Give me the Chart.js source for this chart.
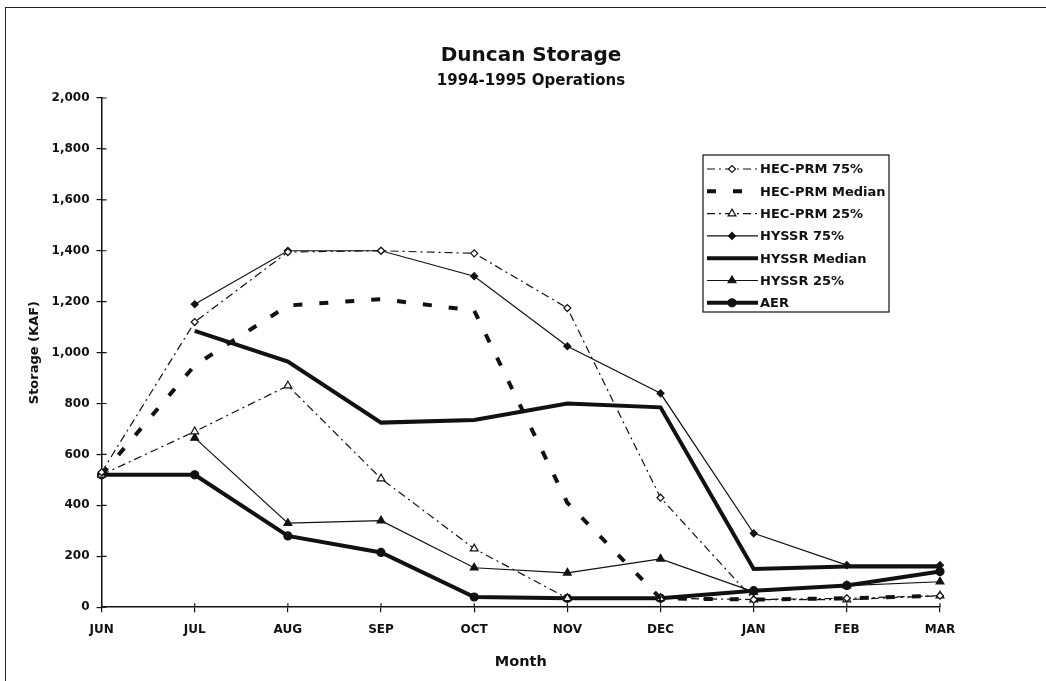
<!DOCTYPE html>
<html lang="en">

<head>
    <meta charset="UTF-8">
    <meta name="viewport" content="width=device-width, initial-scale=1.0">
    <title>Duncan Storage</title>
    <script src="https://cdn.jsdelivr.net/npm/chart.js"></script>
    <style>
        body { margin: 0; overflow: hidden; background: #fff; }
        #frame {
            position: absolute; left: 5px; top: 7px; width: 1200px; height: 900px;
            border-left: 1px solid #222; border-top: 1px solid #222; pointer-events: none;
        }
    </style>
</head>

<body>
    <canvas id="myChart" width="1046" height="681"></canvas>
    <div id="frame"></div>
</body>

<script>

    const months = ['JUN', 'JUL', 'AUG', 'SEP', 'OCT', 'NOV', 'DEC', 'JAN', 'FEB', 'MAR']

    const hecPrm75 = [530, 1120, 1395, 1400, 1390, 1175, 430, 30, 35, 45]
    const hecPrmMedian = [520, 950, 1185, 1210, 1165, 410, 35, 30, 35, 45]
    const hecPrm25 = [520, 690, 870, 505, 230, 35, 35, 30, 30, 45]
    const hyssr75 = [null, 1190, 1400, 1400, 1300, 1025, 840, 290, 165, 165]
    const hyssrMedian = [null, 1085, 965, 725, 735, 800, 785, 150, 160, 160]
    const hyssr25 = [null, 665, 330, 340, 155, 135, 190, 60, 85, 100]
    const aer = [520, 520, 280, 215, 40, 35, 35, 65, 85, 140]

    const ink = '#111'
    const dashDot = [8, 4, 2, 4]

    Chart.defaults.font.family = '"DejaVu Sans", sans-serif'
    Chart.defaults.font.weight = 'bold'
    Chart.defaults.color = ink

    // title + subtitle sit a bit right of the plot centre in the original
    const shiftTitles = {
        id: 'shiftTitles',
        afterLayout(chart) {
            chart.boxes.forEach(b => {
                if (b.position === 'top' && b.fullSize) {
                    b.left = 0
                    b.right = 1062
                }
            })
        }
    }

    // ticks that cross the axis line, plus the boxed legend inside the plot
    const extras = {
        id: 'extras',
        afterDraw(chart) {
            const ctx = chart.ctx
            const x = chart.scales.x
            const y = chart.scales.y
            const area = chart.chartArea

            ctx.save()
            ctx.strokeStyle = ink
            ctx.lineWidth = 1.2
            ctx.beginPath()
            y.ticks.forEach((t, i) => {
                const py = y.getPixelForTick(i)
                ctx.moveTo(area.left, py)
                ctx.lineTo(area.left + 5, py)
            })
            x.ticks.forEach((t, i) => {
                const px = x.getPixelForTick(i)
                ctx.moveTo(px, area.bottom)
                ctx.lineTo(px, area.bottom - 4)
            })
            ctx.stroke()

            const box = { left: 703, top: 155, right: 889, bottom: 312 }
            ctx.fillStyle = '#fff'
            ctx.fillRect(box.left, box.top, box.right - box.left, box.bottom - box.top)
            ctx.lineWidth = 1.2
            ctx.strokeRect(box.left, box.top, box.right - box.left, box.bottom - box.top)

            ctx.font = 'bold 13px "DejaVu Sans", sans-serif'
            ctx.textBaseline = 'middle'
            ctx.textAlign = 'left'
            chart.data.datasets.forEach((ds, i) => {
                const ly = box.top + 14 + i * 22.3
                ctx.save()
                ctx.strokeStyle = ds.borderColor
                ctx.lineWidth = ds.borderWidth
                ctx.setLineDash(ds.borderDash || [])
                ctx.beginPath()
                ctx.moveTo(box.left + 4, ly)
                ctx.lineTo(box.left + 55, ly)
                ctx.stroke()
                ctx.restore()
                if (ds.pointRadius > 0) {
                    ctx.fillStyle = ds.pointBackgroundColor
                    ctx.strokeStyle = ds.borderColor
                    ctx.lineWidth = ds.pointBorderWidth
                    Chart.helpers.drawPoint(ctx, {
                        pointStyle: ds.pointStyle,
                        radius: ds.pointRadius,
                        borderWidth: ds.pointBorderWidth,
                        rotation: 0
                    }, box.left + 29, ly)
                }
                ctx.fillStyle = ink
                ctx.fillText(ds.label, box.left + 57, ly + 1)
            })
            ctx.restore()
        }
    }

    const series = (label, data, width, dash, style, radius, fill) => ({
        label,
        data,
        borderColor: ink,
        borderWidth: width,
        borderDash: dash,
        pointStyle: style,
        pointRadius: radius,
        pointHoverRadius: radius,
        pointBackgroundColor: fill,
        pointBorderColor: ink,
        pointBorderWidth: 1.2,
        tension: 0,
        fill: false
    })

    const chart = new Chart(
        document.getElementById('myChart'),
        {
            type: 'line',
            data: {
                labels: months,
                datasets: [
                    series('HEC-PRM 75%', hecPrm75, 1.2, dashDot, 'rectRot', 3.5, '#fff'),
                    series('HEC-PRM Median', hecPrmMedian, 4, [9, 17], 'circle', 0, ink),
                    series('HEC-PRM 25%', hecPrm25, 1.2, dashDot, 'triangle', 4.5, '#fff'),
                    series('HYSSR 75%', hyssr75, 1.2, [], 'rectRot', 3.5, ink),
                    series('HYSSR Median', hyssrMedian, 4, [], 'circle', 0, ink),
                    series('HYSSR 25%', hyssr25, 1.2, [], 'triangle', 4.5, ink),
                    series('AER', aer, 4, [], 'circle', 4, ink)
                ]
            },
            options: {
                responsive: false,
                animation: false,
                layout: {
                    padding: { left: 20, right: 106, top: 0, bottom: 10 }
                },
                plugins: {
                    legend: { display: false },
                    tooltip: { enabled: false },
                    title: {
                        display: true,
                        text: 'Duncan Storage',
                        color: ink,
                        font: { size: 20, weight: 'bold' },
                        padding: { top: 44, bottom: 2 }
                    },
                    subtitle: {
                        display: true,
                        text: '1994-1995 Operations',
                        color: ink,
                        font: { size: 15, weight: 'bold' },
                        padding: { top: 2, bottom: 8 }
                    }
                },
                scales: {
                    x: {
                        offset: false,
                        grid: { drawOnChartArea: false, tickLength: 5, color: ink, lineWidth: 1.2 },
                        border: { color: ink, width: 1.5 },
                        ticks: { font: { size: 12, weight: 'bold' }, padding: 10, maxRotation: 0 },
                        title: {
                            display: true,
                            text: 'Month',
                            font: { size: 14.5, weight: 'bold' },
                            padding: { top: 7, bottom: 0 }
                        }
                    },
                    y: {
                        min: 0,
                        max: 2000,
                        grid: { drawOnChartArea: false, tickLength: 5, color: ink, lineWidth: 1.2 },
                        border: { color: ink, width: 1.5 },
                        ticks: { stepSize: 200, font: { size: 12, weight: 'bold' }, padding: 7 },
                        title: {
                            display: true,
                            text: 'Storage (KAF)',
                            font: { size: 13, weight: 'bold' },
                            padding: { top: 7, bottom: 2 }
                        }
                    }
                }
            },
            plugins: [shiftTitles, extras]
        });

</script>

</html>
